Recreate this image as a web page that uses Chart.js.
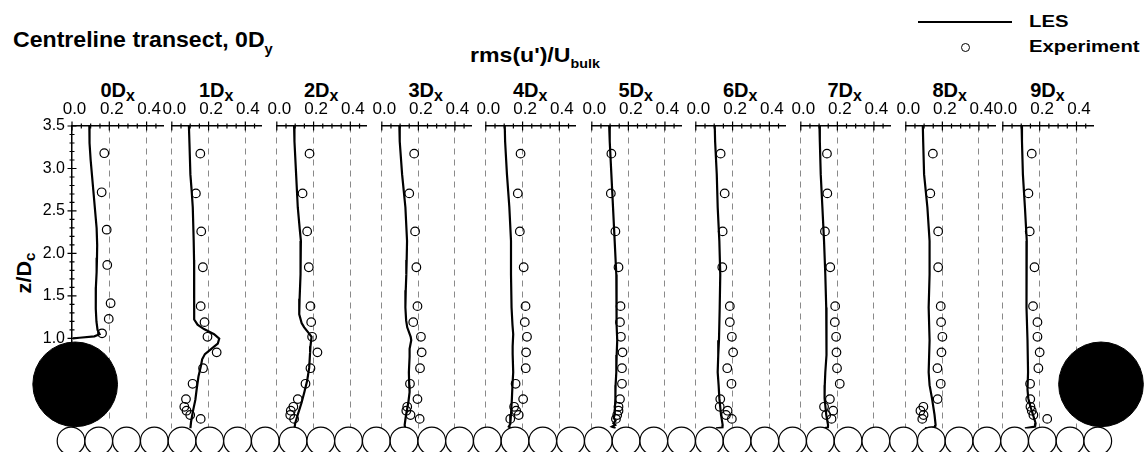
<!DOCTYPE html>
<html>
<head>
<meta charset="utf-8">
<script src="https://cdn.jsdelivr.net/npm/chart.js@4.4.0/dist/chart.umd.min.js"></script>
<style>
  html, body { margin: 0; padding: 0; background: #fff; }
  #stage { position: relative; width: 1146px; height: 452px; overflow: hidden; background: #fff;
           font-family: 'Liberation Sans', Arial, sans-serif; color: #000; }
  #stage canvas { position: absolute; }
  .t { position: absolute; font-weight: bold; line-height: 1; white-space: nowrap; }
  .sb { position: relative; }
</style>
</head>
<body>
<div id="stage">
  <div class="t" style="left:13px; top:28.8px; font-size:22px; transform:scaleX(1.05); transform-origin:left top;">Centreline transect, 0D<span class="sb" style="font-size:14px; top:7px;">y</span></div>
  <div class="t" style="left:470px; top:44px; font-size:21px; transform:scaleX(1.1); transform-origin:left top;">rms(u')/U<span class="sb" style="font-size:13px; top:6px;">bulk</span></div>
  <div class="t" id="ytitle" style="left:24px; top:273px; font-size:20px; transform:translate(-50%,-50%) rotate(-90deg) scaleX(1.08);">z/D<span class="sb" style="font-size:14px; top:4px;">c</span></div>

  <div style="position:absolute; left:918px; top:20.5px; width:94px; height:2.4px; background:#000;"></div>
  <div style="position:absolute; left:961px; top:43px; width:7px; height:7px; border:1.2px solid #000; border-radius:50%;"></div>
  <div class="t" style="left:1029px; top:12.9px; font-size:16.5px; transform:scaleX(1.23); transform-origin:left top;">LES</div>
  <div class="t" style="left:1029px; top:37.9px; font-size:16.5px; transform:scaleX(1.23); transform-origin:left top;">Experiment</div>
</div>

<script>
// ---- data -----------------------------------------------------------------

// Streamwise stations along the centreline transect (multiples of D_x)
const stations = [0, 1, 2, 3, 4, 5, 6, 7, 8, 9];

// Labelled ticks
const xTickValues = [0.0, 0.2, 0.4];
const zTickValues = [1.0, 1.5, 2.0, 2.5, 3.0, 3.5];

// Measurement heights z/D_c (station 0 only has the points above the cylinder)
const expZ = [3.18, 2.72, 2.28, 1.865, 1.415, 1.23, 1.06, 0.88, 0.697, 0.516, 0.339, 0.25, 0.205, 0.155, 0.11];

// Measured rms(u')/U_bulk at each station
const exp0 = [0.173, 0.159, 0.186, 0.189, 0.207, 0.197, 0.161];
const exp1 = [0.155, 0.131, 0.160, 0.169, 0.157, 0.178, 0.194, 0.244, 0.170, 0.113, 0.077, 0.068, 0.080, 0.100, 0.157];
const exp2 = [0.178, 0.140, 0.165, 0.174, 0.183, 0.187, 0.192, 0.221, 0.183, 0.156, 0.114, 0.090, 0.076, 0.073, 0.094];
const exp3 = [0.177, 0.150, 0.182, 0.189, 0.195, 0.172, 0.214, 0.218, 0.209, 0.154, 0.195, 0.139, 0.134, 0.157, 0.207];
const exp4 = [0.189, 0.174, 0.185, 0.206, 0.216, 0.212, 0.224, 0.219, 0.217, 0.162, 0.203, 0.154, 0.165, 0.179, 0.133];
const exp5 = [0.107, 0.104, 0.129, 0.146, 0.157, 0.154, 0.159, 0.168, 0.165, 0.165, 0.154, 0.146, 0.146, 0.139, 0.132];
const exp6 = [0.135, 0.157, 0.146, 0.144, 0.185, 0.185, 0.196, 0.203, 0.171, 0.194, 0.133, 0.130, 0.173, 0.164, 0.196];
const exp7 = [0.143, 0.145, 0.132, 0.161, 0.188, 0.186, 0.193, 0.195, 0.198, 0.213, 0.159, 0.127, 0.177, 0.139, 0.168];
const exp8 = [0.148, 0.134, 0.177, 0.177, 0.191, 0.193, 0.200, 0.195, 0.173, 0.191, 0.174, 0.096, 0.080, 0.097, 0.090];
const exp9 = [0.157, 0.139, 0.146, 0.172, 0.164, 0.188, 0.188, 0.200, 0.193, 0.148, 0.149, 0.150, 0.157, 0.166, 0.241];

// LES profiles as [rms(u')/U_bulk, z/D_c]
const les0 = [[0.093,3.5],[0.094,3.3],[0.100,3.1],[0.108,2.9],[0.114,2.75],[0.124,2.5],[0.132,2.3],[0.135,2.1],[0.134,1.95],[0.132,1.78],[0.128,1.6],[0.127,1.5],[0.128,1.35],[0.131,1.2],[0.137,1.1],[0.148,1.05],[0.120,1.025],[0.040,1.008],[0.005,1.0]];
const les1 = [[0.093,3.5],[0.096,3.3],[0.101,2.94],[0.108,2.75],[0.114,2.56],[0.119,2.17],[0.121,1.95],[0.122,1.78],[0.121,1.5],[0.122,1.26],[0.140,1.2],[0.175,1.15],[0.230,1.09],[0.258,1.04],[0.250,0.98],[0.215,0.92],[0.180,0.86],[0.165,0.80],[0.158,0.72],[0.145,0.60],[0.135,0.45],[0.128,0.33],[0.115,0.20],[0.105,0.08],[0.101,0.0]];
const les2 = [[0.094,3.5],[0.096,3.32],[0.105,2.94],[0.114,2.56],[0.125,2.3],[0.131,2.17],[0.130,1.95],[0.128,1.78],[0.124,1.5],[0.122,1.32],[0.135,1.22],[0.149,1.17],[0.175,1.1],[0.189,1.06],[0.183,0.95],[0.181,0.88],[0.176,0.70],[0.165,0.55],[0.150,0.42],[0.135,0.30],[0.114,0.16],[0.100,0.06],[0.096,0.0]];
const les3 = [[0.096,3.5],[0.098,3.32],[0.111,2.94],[0.120,2.75],[0.129,2.56],[0.138,2.17],[0.136,1.95],[0.134,1.78],[0.131,1.6],[0.129,1.40],[0.133,1.25],[0.139,1.17],[0.158,1.06],[0.161,1.02],[0.152,0.92],[0.152,0.83],[0.148,0.65],[0.150,0.50],[0.152,0.42],[0.145,0.30],[0.139,0.23],[0.130,0.12],[0.125,0.04],[0.128,0.0]];
const les4 = [[0.103,3.5],[0.105,3.32],[0.115,2.94],[0.128,2.56],[0.137,2.17],[0.137,1.78],[0.140,1.40],[0.145,1.2],[0.149,1.09],[0.146,0.95],[0.146,0.86],[0.149,0.65],[0.145,0.50],[0.142,0.35],[0.137,0.16],[0.133,0.05],[0.125,0.02],[0.140,0.0]];
const les5 = [[0.095,3.5],[0.098,3.32],[0.107,2.94],[0.116,2.56],[0.125,2.17],[0.134,1.78],[0.134,1.40],[0.137,1.2],[0.139,1.02],[0.136,0.85],[0.134,0.65],[0.130,0.50],[0.129,0.35],[0.125,0.16],[0.120,0.12],[0.130,0.09],[0.118,0.06],[0.128,0.04],[0.110,0.02],[0.130,0.0]];
const les6 = [[0.103,3.5],[0.105,3.32],[0.114,2.94],[0.119,2.56],[0.128,2.17],[0.133,1.78],[0.130,1.40],[0.126,1.02],[0.122,0.85],[0.119,0.65],[0.124,0.50],[0.128,0.35],[0.137,0.16],[0.146,0.04],[0.145,0.01],[0.110,0.0]];
const les7 = [[0.102,3.5],[0.104,3.32],[0.109,2.94],[0.118,2.56],[0.127,2.17],[0.134,1.78],[0.139,1.40],[0.143,1.02],[0.138,0.85],[0.134,0.65],[0.131,0.50],[0.130,0.35],[0.139,0.16],[0.149,0.04],[0.148,0.01],[0.120,0.0]];
const les8 = [[0.093,3.5],[0.095,3.32],[0.100,2.94],[0.118,2.56],[0.130,2.17],[0.130,1.78],[0.125,1.40],[0.130,1.02],[0.125,0.65],[0.130,0.50],[0.143,0.35],[0.157,0.16],[0.163,0.04],[0.160,0.015],[0.105,0.0]];
const les9 = [[0.102,3.5],[0.104,3.32],[0.109,2.94],[0.120,2.56],[0.130,2.17],[0.130,1.78],[0.127,1.40],[0.134,1.02],[0.137,0.65],[0.134,0.45],[0.138,0.35],[0.150,0.25],[0.165,0.15],[0.178,0.06],[0.175,0.02],[0.120,0.0]];

const expValues = [exp0, exp1, exp2, exp3, exp4, exp5, exp6, exp7, exp8, exp9];
const lesProfiles = [les0, les1, les2, les3, les4, les5, les6, les7, les8, les9];

// Bed elements and the two large cylinders, x and z in D_c
const bedX = [0.822, 1.143, 1.464, 1.786, 2.107, 2.428, 2.749, 3.070, 3.392, 3.713,
              4.034, 4.355, 4.676, 4.998, 5.319, 5.640, 5.961, 6.282, 6.604, 6.925,
              7.246, 7.567, 7.888, 8.210, 8.531, 8.852, 9.173, 9.494, 9.816, 10.137,
              10.458, 10.779, 11.100, 11.422, 11.743, 12.064, 12.385, 12.706];
const bedZ = -0.145;
const bedR = 0.16;
const cylX = [0.870, 12.743];
const cylZ = [0.51, 0.51];
const cylR = 0.49;

// ---- layout ---------------------------------------------------------------

const X_MAX = 0.49, Z_MAX = 3.5;
const PX_PER_U = 186.5;                 // horizontal scale of each profile panel
const AREA_W = X_MAX * PX_PER_U;
const panelLeft = [72, 170.5, 275.5, 380, 484.5, 590, 694.5, 799, 904, 1001.7];
const CAN_TOP = 88, CAN_H = 352, XAXIS_H = 30, AREA_TOP = 126, AREA_BOTTOM = 428.4, SIDE = 16;
const PAD_TOP = AREA_TOP - CAN_TOP - XAXIS_H;
const PAD_BOTTOM = CAN_TOP + CAN_H - AREA_BOTTOM;

Chart.defaults.font.family = "'Liberation Sans', Arial, sans-serif";
Chart.defaults.color = '#000';

const stage = document.getElementById('stage');
const isMult = (v, step) => Math.abs(v / step - Math.round(v / step)) < 1e-6;
const inList = (list, v) => list.some(t => Math.abs(t - v) < 1e-6);

// tick marks that cross the axis line, longer at labelled values
const crossTicks = {
  id: 'crossTicks',
  afterDraw(chart) {
    const { ctx, chartArea: a } = chart;
    ctx.save();
    ctx.strokeStyle = '#000';
    ctx.lineWidth = 1.2;
    ctx.beginPath();
    const xs = chart.scales.x;
    xs.ticks.forEach(t => {
      const p = xs.getPixelForValue(t.value);
      const L = isMult(t.value, 0.2) ? 4.5 : 2.5;
      ctx.moveTo(p, a.top - L); ctx.lineTo(p, a.top + L);
    });
    const ys = chart.scales.y;
    if (ys.options.display) {
      ys.ticks.forEach(t => {
        const p = ys.getPixelForValue(t.value);
        const L = isMult(t.value, 0.5) ? 4.5 : 2.5;
        ctx.moveTo(a.left - L, p); ctx.lineTo(a.left + L, p);
      });
    }
    ctx.stroke();
    ctx.restore();
  }
};

function addCanvas(left, top, w, h, z) {
  const cv = document.createElement('canvas');
  cv.width = w; cv.height = h;
  cv.style.left = left + 'px'; cv.style.top = top + 'px';
  cv.style.width = w + 'px'; cv.style.height = h + 'px';
  cv.style.zIndex = z;
  stage.appendChild(cv);
  return cv;
}

stations.forEach((st, i) => {
  const first = i === 0;
  const canLeft = first ? 0 : Math.floor(panelLeft[i] - SIDE);
  const padLeft = first ? 0 : panelLeft[i] - canLeft;
  const inner = first ? panelLeft[0] : padLeft;
  const canW = Math.ceil(inner + AREA_W + SIDE);
  const padRight = canW - inner - AREA_W;
  const cv = addCanvas(canLeft, CAN_TOP, canW, CAN_H, 1);

  const vals = expValues[i];
  const yScale = {
    type: 'linear', min: 0, max: Z_MAX, display: first,
    ticks: {
      stepSize: 0.1, autoSkip: false, padding: 7, font: { size: 16 },
      callback: v => inList(zTickValues, v) ? v.toFixed(1) : ''
    },
    grid: { drawOnChartArea: false, drawTicks: false },
    border: { display: true, color: '#000', width: 1.5 }
  };
  if (first) yScale.afterFit = sc => { sc.width = panelLeft[0]; };

  new Chart(cv, {
    type: 'scatter',
    data: {
      datasets: [
        {
          label: 'LES',
          data: lesProfiles[i].map(([x, z]) => ({ x, y: z })),
          showLine: true,
          borderColor: '#000',
          borderWidth: 2.2,
          pointRadius: 0,
          tension: 0
        },
        {
          label: 'Experiment',
          data: vals.map((x, k) => ({ x, y: expZ[k] })),
          pointRadius: 4.3,
          pointBorderWidth: 1.2,
          pointBorderColor: '#000',
          pointBackgroundColor: 'rgba(255,255,255,0)'
        }
      ]
    },
    options: {
      responsive: false,
      animation: false,
      devicePixelRatio: 1,
      events: [],
      layout: { autoPadding: false, padding: { left: padLeft, right: padRight, top: PAD_TOP, bottom: PAD_BOTTOM } },
      plugins: { legend: { display: false }, tooltip: { enabled: false } },
      scales: {
        x: {
          type: 'linear', position: 'top', min: 0, max: X_MAX,
          afterFit: sc => { sc.height = XAXIS_H; },
          ticks: {
            stepSize: 0.05, includeBounds: false, autoSkip: false, maxRotation: 0, minRotation: 0,
            padding: 6, labelOffset: 2.5, font: { size: 17 },
            callback: v => inList(xTickValues, v) ? v.toFixed(1) : ''
          },
          grid: {
            drawTicks: false, lineWidth: 1,
            color: c => (c.tick && isMult(c.tick.value, 0.2) && !(first && c.tick.value === 0)) ? '#8a8a8a' : 'rgba(0,0,0,0)'
          },
          border: { display: true, color: '#000', width: 1.5, dash: [6, 5] }
        },
        y: yScale
      }
    },
    plugins: [crossTicks]
  });

  // station heading, e.g. 3D_x
  const h = document.createElement('div');
  h.className = 't';
  h.style.cssText = `left:${panelLeft[i] + AREA_W / 2 - 60}px; top:80px; width:120px; text-align:center; font-size:20px;`;
  h.innerHTML = `${st}D<span class="sb" style="font-size:16px; top:4px;">x</span>`;
  stage.appendChild(h);
});

// bed elements and cylinders, drawn over the profile panels
const W = 1146, H = 452, PX_PER_D = 86.4;
const ov = addCanvas(0, 0, W, H, 3);
const radiusPx = (chart, r) => chart.scales.y.getPixelForValue(0) - chart.scales.y.getPixelForValue(r);
new Chart(ov, {
  type: 'scatter',
  data: {
    datasets: [
      {
        data: bedX.map(x => ({ x, y: bedZ })),
        pointRadius: c => radiusPx(c.chart, bedR),
        pointBackgroundColor: '#fff',
        pointBorderColor: '#000',
        pointBorderWidth: 1.2,
        clip: false
      },
      {
        data: cylX.map((x, k) => ({ x, y: cylZ[k] })),
        pointRadius: c => radiusPx(c.chart, cylR),
        pointBackgroundColor: '#000',
        pointBorderColor: '#000',
        pointBorderWidth: 1,
        clip: false
      }
    ]
  },
  options: {
    responsive: false,
    animation: false,
    devicePixelRatio: 1,
    events: [],
    layout: { autoPadding: false, padding: 0 },
    plugins: { legend: { display: false }, tooltip: { enabled: false } },
    scales: {
      x: { display: false, min: 0, max: W / PX_PER_D },
      y: { display: false, min: -(H - AREA_BOTTOM) / PX_PER_D, max: Z_MAX + AREA_TOP / PX_PER_D }
    }
  }
});
</script>
</body>
</html>
